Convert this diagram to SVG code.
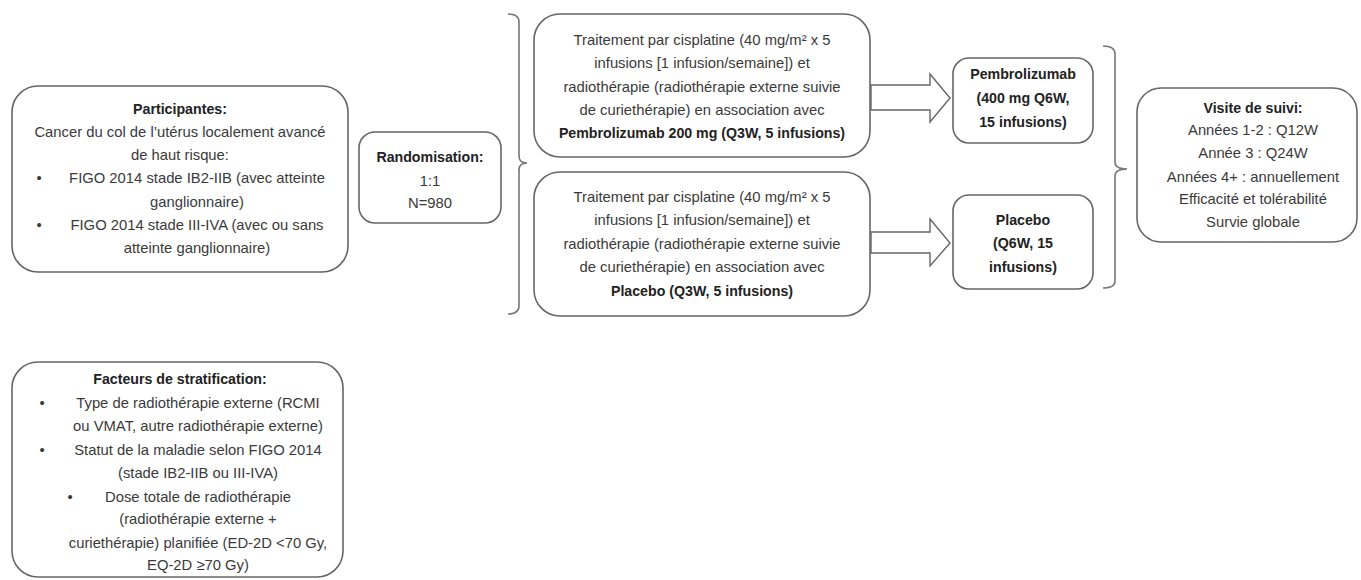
<svg xmlns="http://www.w3.org/2000/svg" width="1361" height="580" viewBox="0 0 1361 580">
<style>
.box{fill:#fff;stroke:#666;stroke-width:1.6}
.t{font-family:"Liberation Sans",Arial,sans-serif;font-size:14.8px;fill:#3a3a3a;text-anchor:middle}
.b{font-weight:bold;font-size:14.2px;fill:#222}
.br{fill:none;stroke:#777;stroke-width:1.6}
.ar{fill:#fff;stroke:#666;stroke-width:1.4;stroke-linejoin:miter}
</style>
<rect width="1361" height="580" fill="#fff"/>
<g id="participantes">
<rect class="box" x="12" y="86" width="336" height="186" rx="26"/>
<text class="t b" x="180" y="114">Participantes:</text>
<text class="t" x="180" y="137">Cancer du col de l’utérus localement avancé</text>
<text class="t" x="180" y="160">de haut risque:</text>
<text class="t" x="39" y="183">•</text>
<text class="t" x="197" y="183">FIGO 2014 stade IB2-IIB (avec atteinte</text>
<text class="t" x="197" y="207">ganglionnaire)</text>
<text class="t" x="39" y="230">•</text>
<text class="t" x="197" y="230">FIGO 2014 stade III-IVA (avec ou sans</text>
<text class="t" x="197" y="253">atteinte ganglionnaire)</text>
</g>
<g id="randomisation">
<rect class="box" x="359" y="132" width="142" height="91" rx="16"/>
<text class="t b" x="430" y="162">Randomisation:</text>
<text class="t" x="430" y="186">1:1</text>
<text class="t" x="430" y="208">N=980</text>
</g>
<g id="arm-pembro">
<rect class="box" x="534" y="14" width="336" height="143" rx="26"/>
<text class="t" x="702" y="45">Traitement par cisplatine (40 mg/m² x 5</text>
<text class="t" x="702" y="68">infusions [1 infusion/semaine]) et</text>
<text class="t" x="702" y="92">radiothérapie (radiothérapie externe suivie</text>
<text class="t" x="702" y="115">de curiethérapie) en association avec</text>
<text class="t b" x="702" y="138">Pembrolizumab 200 mg (Q3W, 5 infusions)</text>
</g>
<g id="arm-placebo">
<rect class="box" x="534" y="172" width="336" height="144" rx="26"/>
<text class="t" x="702" y="202">Traitement par cisplatine (40 mg/m² x 5</text>
<text class="t" x="702" y="225">infusions [1 infusion/semaine]) et</text>
<text class="t" x="702" y="249">radiothérapie (radiothérapie externe suivie</text>
<text class="t" x="702" y="272">de curiethérapie) en association avec</text>
<text class="t b" x="702" y="296">Placebo (Q3W, 5 infusions)</text>
</g>
<g id="maint-pembro">
<rect class="box" x="953" y="58" width="140" height="85" rx="16"/>
<text class="t b" x="1023" y="79">Pembrolizumab</text>
<text class="t b" x="1023" y="103">(400 mg Q6W,</text>
<text class="t b" x="1023" y="127">15 infusions)</text>
</g>
<g id="maint-placebo">
<rect class="box" x="953" y="195" width="140" height="94" rx="16"/>
<text class="t b" x="1023" y="225">Placebo</text>
<text class="t b" x="1023" y="248">(Q6W, 15</text>
<text class="t b" x="1023" y="272">infusions)</text>
</g>
<g id="suivi">
<rect class="box" x="1137" y="88" width="220" height="154" rx="24"/>
<text class="t b" x="1253" y="113">Visite de suivi:</text>
<text class="t" x="1253" y="135">Années 1-2 : Q12W</text>
<text class="t" x="1253" y="158">Année 3 : Q24W</text>
<text class="t" x="1253" y="182">Années 4+ : annuellement</text>
<text class="t" x="1253" y="204">Efficacité et tolérabilité</text>
<text class="t" x="1253" y="227">Survie globale</text>
</g>
<g id="stratification">
<rect class="box" x="12" y="362" width="331" height="215" rx="26"/>
<text class="t b" x="180" y="384">Facteurs de stratification:</text>
<text class="t" x="42" y="408">•</text>
<text class="t" x="198" y="408">Type de radiothérapie externe (RCMI</text>
<text class="t" x="198" y="431">ou VMAT, autre radiothérapie externe)</text>
<text class="t" x="42" y="455">•</text>
<text class="t" x="198" y="455">Statut de la maladie selon FIGO 2014</text>
<text class="t" x="198" y="478">(stade IB2-IIB ou III-IVA)</text>
<text class="t" x="70" y="502">•</text>
<text class="t" x="198" y="502">Dose totale de radiothérapie</text>
<text class="t" x="198" y="524">(radiothérapie externe +</text>
<text class="t" x="198" y="548">curiethérapie) planifiée (ED-2D &lt;70 Gy,</text>
<text class="t" x="198" y="570">EQ-2D ≥70 Gy)</text>
</g>
<g id="connectors">
<path class="br" d="M508,14 Q519,14 519,22 L519,156 Q519,163 527,163 Q519,163 519,170 L519,306 Q519,314 508,314"/>
<path class="br" d="M1103,46 Q1115,46 1115,54 L1115,162 Q1115,169 1127,169 Q1115,169 1115,176 L1115,281 Q1115,288 1103,288"/>
<polygon class="ar" points="871,85 930,85 930,74 950,98 930,122 930,110 871,110"/>
<polygon class="ar" points="871,232 930,232 930,219 950,243 930,266 930,253 871,253"/>
</g>
</svg>
